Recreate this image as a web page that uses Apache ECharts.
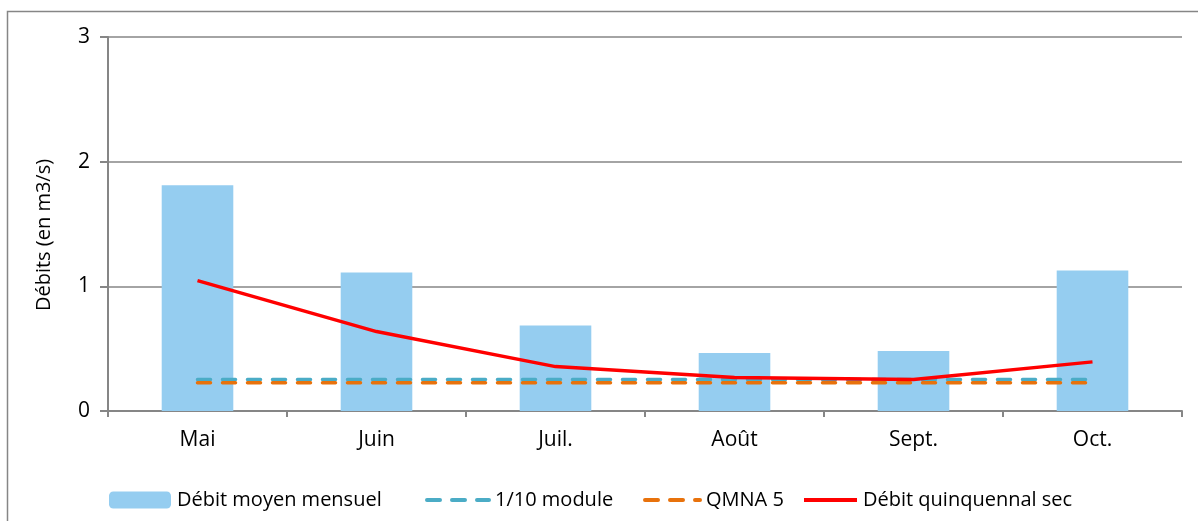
<!DOCTYPE html>
<html>
<head>
<meta charset="utf-8">
<script src="https://cdn.jsdelivr.net/npm/echarts@6/dist/echarts.min.js"></script>
<style>
    html, body { margin: 0; padding: 0; background: #fff; }
    #chart { width: 1198px; height: 521px; }
</style>
</head>
<body>
<div id="chart"></div>
<script>
// mois (catégories)
const months = ['Mai', 'Juin', 'Juil.', 'Août', 'Sept.', 'Oct.']
// débit moyen mensuel (barres)
const debitMoyen = [1.81, 1.11, 0.685, 0.466, 0.482, 1.128]
// 1/10 module
const dixiemeModule = [0.252, 0.252, 0.252, 0.252, 0.252, 0.252]
// QMNA 5
const qmna5 = [0.226, 0.226, 0.226, 0.226, 0.226, 0.226]
// débit quinquennal sec
const quinquennalSec = [1.046, 0.637, 0.356, 0.268, 0.252, 0.394]

const FONT = '"Open Sans"'
const GRAY = '#868686'

const chart = echarts.init(document.getElementById('chart'))

// une légende par entrée, pour caler chaque item comme dans l'original
function legendItem(name, left, width, isLine) {
    const item = { name: name }
    if (isLine) {
        item.itemStyle = { opacity: 0 }
        item.lineStyle = { width: 4 }
    }
    return {
        left: left,
        top: 485,
        itemWidth: width,
        itemHeight: 17,
        textStyle: { fontFamily: FONT, fontSize: 20, color: '#000', padding: [0, 0, 0, 1] },
        data: [item]
    }
}

const option = {
    animation: false,
    textStyle: { fontFamily: FONT, color: '#000' },
    graphic: [
        { // cadre (haut + gauche)
            type: 'polyline',
            shape: { points: [[7.5, 521], [7.5, 11.5], [1198, 11.5]] },
            style: { stroke: GRAY, lineWidth: 1.5, fill: null }
        }
    ],
    grid: {
        left: 108,
        right: 16,
        top: 37,
        bottom: 110
    },
    legend: [
        legendItem('Débit moyen mensuel', 104, 62, false),
        legendItem('1/10 module', 420, 62, true),
        legendItem('QMNA 5', 638, 55, true),
        legendItem('Débit quinquennal sec', 797, 53, true)
    ],
    xAxis: {
        type: 'category',
        data: months,
        axisLine: { lineStyle: { color: GRAY, width: 2 } },
        axisTick: { show: true, length: 6, lineStyle: { color: GRAY, width: 2 } },
        axisLabel: { fontFamily: FONT, fontSize: 21, color: '#000', margin: 19 }
    },
    yAxis: {
        type: 'value',
        min: 0,
        max: 3,
        interval: 1,
        name: 'Débits (en m3/s)',
        nameLocation: 'middle',
        nameRotate: 90,
        nameGap: 54,
        nameTextStyle: { fontFamily: FONT, fontSize: 20, color: '#000', padding: [0, 0, 0, -22] },
        axisLine: { show: true, lineStyle: { color: GRAY, width: 2 } },
        axisTick: { show: true, length: 8, lineStyle: { color: GRAY, width: 2 } },
        axisLabel: { fontFamily: FONT, fontSize: 21, color: '#000', margin: 18 },
        splitLine: { show: true, lineStyle: { color: GRAY, width: 1.5 } }
    },
    series: [
        {
            name: 'Débit moyen mensuel',
            type: 'bar',
            data: debitMoyen,
            barWidth: '40%',
            itemStyle: { color: '#95CDF0' }
        },
        {
            name: '1/10 module',
            type: 'line',
            data: dixiemeModule,
            symbol: 'none',
            color: '#4BACC6',
            lineStyle: { color: '#4BACC6', width: 3.5, type: [13, 12], cap: 'round' }
        },
        {
            name: 'QMNA 5',
            type: 'line',
            data: qmna5,
            symbol: 'none',
            color: '#E8720C',
            lineStyle: { color: '#E8720C', width: 3.5, type: [13, 12], cap: 'round' }
        },
        {
            name: 'Débit quinquennal sec',
            type: 'line',
            data: quinquennalSec,
            symbol: 'none',
            color: '#FF0000',
            lineStyle: { color: '#FF0000', width: 3.5 }
        }
    ]
}

chart.setOption(option)
</script>
</body>
</html>
